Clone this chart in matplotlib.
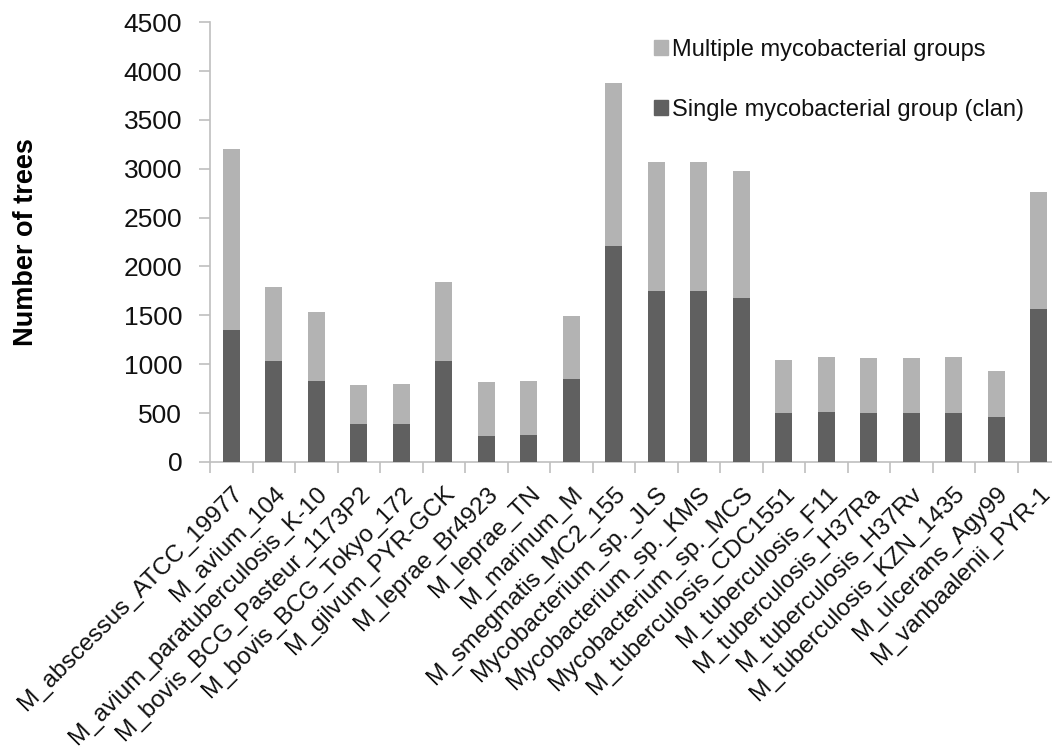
import matplotlib
matplotlib.use("Agg")
import matplotlib.pyplot as plt
from matplotlib.patches import Patch
import numpy as np

# strains and tree counts per category
strains = [
    "M_abscessus_ATCC_19977", "M_avium_104", "M_avium_paratuberculosis_K-10",
    "M_bovis_BCG_Pasteur_1173P2", "M_bovis_BCG_Tokyo_172", "M_gilvum_PYR-GCK",
    "M_leprae_Br4923", "M_leprae_TN", "M_marinum_M", "M_smegmatis_MC2_155",
    "Mycobacterium_sp._JLS", "Mycobacterium_sp._KMS", "Mycobacterium_sp._MCS",
    "M_tuberculosis_CDC1551", "M_tuberculosis_F11", "M_tuberculosis_H37Ra",
    "M_tuberculosis_H37Rv", "M_tuberculosis_KZN_1435", "M_ulcerans_Agy99",
    "M_vanbaalenii_PYR-1",
]
single = [1353, 1029, 824, 385, 385, 1029, 269, 279, 849, 2212,
          1752, 1752, 1673, 497, 507, 497, 497, 497, 460, 1565]
total = [3204, 1786, 1534, 783, 798, 1837, 814, 828, 1496, 3879,
         3074, 3074, 2976, 1046, 1070, 1063, 1063, 1070, 927, 2761]
multiple = [t - s for t, s in zip(total, single)]

DARK, LIGHT, AXIS = "#606060", "#b3b3b3", "#bfbfbf"

plt.rcParams.update({
    "font.family": ["Liberation Sans", "DejaVu Sans"],
    "text.color": "#111111",
})

fig = plt.figure(figsize=(10.52, 7.48), dpi=100)
ax = fig.add_axes([210 / 1052, 0.3824, 850 / 1052, 0.588])

x = np.arange(len(strains))
ax.bar(x, single, width=0.4, color=DARK, zorder=3)
ax.bar(x, multiple, width=0.4, bottom=single, color=LIGHT, zorder=3)

ax.set_xlim(-0.5, len(strains) - 0.5)
ax.set_ylim(0, 4500)
ax.set_yticks(np.arange(0, 4501, 500))

for side in ("top", "right"):
    ax.spines[side].set_visible(False)
for side in ("left", "bottom"):
    ax.spines[side].set_color(AXIS)
    ax.spines[side].set_linewidth(1.2)

ax.tick_params(axis="y", length=8, width=1.2, color=AXIS, pad=12,
               labelsize=19, labelcolor="#111111")
ax.set_xticks(x)
ax.set_xticks(np.arange(-0.5, len(strains)), minor=True)
ax.tick_params(axis="x", which="major", length=0, pad=15)
ax.tick_params(axis="x", which="minor", length=8, width=1.2, color=AXIS)
ax.set_xticklabels(strains, rotation=45, ha="right", va="top",
                   rotation_mode="anchor", fontsize=17.5, color="#111111")

ax.set_ylabel("Number of trees", fontsize=19.5, fontweight="bold")
ax.yaxis.set_label_coords(-0.201, 0.5)

handles = [Patch(color=LIGHT), Patch(color=DARK)]
fig.legend(handles, ["Multiple mycobacterial groups",
                     "Single mycobacterial group (clan)"],
           loc="upper left", bbox_to_anchor=(654 / 1052, 1 - 39 / 748),
           frameon=False, fontsize=17, handlelength=0.6, handleheight=0.6,
           handletextpad=0.15, labelspacing=1.6, borderpad=0,
           borderaxespad=0)

fig.savefig("out.png", dpi=100)
